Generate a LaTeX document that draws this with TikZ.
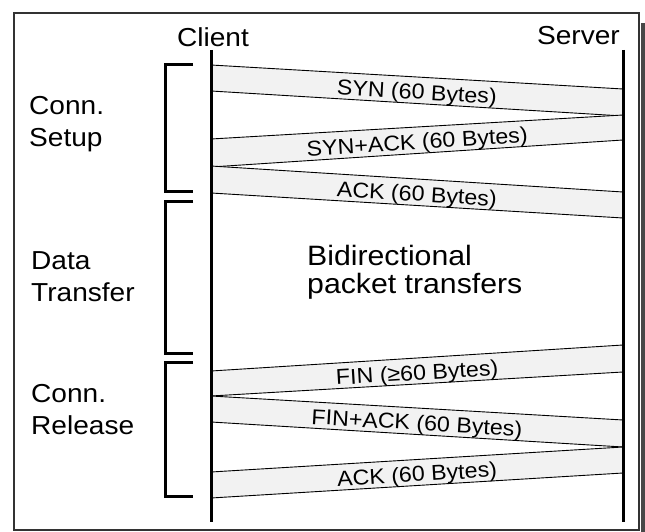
\documentclass[tikz,border=0pt]{standalone}
\usepackage{fontspec}
\setmainfont{Liberation Sans}[FakeStretch=1.08]
\newcommand{\msgband}[6]{%
  \coordinate (#1ct) at (211,#2);
  \coordinate (#1cb) at (211,#3);
  \coordinate (#1st) at (623,#4);
  \coordinate (#1sb) at (623,#5);
  \fill[bandfill] (#1ct) -- (#1st) -- (#1sb) -- (#1cb) -- cycle;
  \draw[bandline] (#1ct) -- (#1st);
  \draw[bandline] (#1cb) -- (#1sb);
  \path ($(#1ct)!0.5!(#1cb)$) -- ($(#1st)!0.5!(#1sb)$)
     node[msg, midway, yshift=-3.5pt] (#1) {#6};
}
\usetikzlibrary{calc}
\begin{document}
\begin{tikzpicture}[x=1pt,y=-1pt,
  bandfill/.style={fill=black!5},
  bandline/.style={draw=black, line width=0.9pt},
  life/.style={line width=3pt},
  brk/.style={line width=3pt},
  side/.style={font=\fontsize{26}{32}\selectfont, align=left, anchor=north west, inner sep=0pt},
  head/.style={font=\fontsize{26}{32}\selectfont, inner sep=0pt},
  msg/.style={font=\fontsize{21.5}{24}\selectfont, sloped, inner sep=0pt}]
\useasboundingbox (0,0) rectangle (645,532);
% frame and shadow
\fill[black!72] (641,23) rectangle (645,532);
\draw[black!80, line width=1.2pt] (14,13) rectangle (639,530);
% headers
\node[head, anchor=base] (client) at (213,46.7) {Client};
\node[head, anchor=base east] (server) at (620,45) {Server};
% bands
\msgband{syn}{65}{91}{89}{116}{SYN (60 Bytes)}
\msgband{synack}{139}{167}{115}{140}{SYN+ACK (60 Bytes)}
\msgband{ack}{166}{193}{192}{218}{ACK (60 Bytes)}
\msgband{fin}{371}{396}{345}{372}{FIN (≥60 Bytes)}
\msgband{finack}{396}{422}{420}{447}{FIN+ACK (60 Bytes)}
\msgband{ackb}{472}{498}{447}{473}{ACK (60 Bytes)}
% lifelines
\coordinate (ctop) at (211,50);
\coordinate (cbot) at (211,522);
\coordinate (stop) at (623,50);
\coordinate (sbot) at (623,522);
\draw[life] (ctop) -- (cbot);
\draw[life] (stop) -- (sbot);
% brackets
\draw[brk] (193,65) -- (165.5,65) -- (165.5,191) -- (193,191);
\draw[brk] (193,201) -- (165.5,201) -- (165.5,353) -- (193,353);
\draw[brk] (193,362) -- (165.5,362) -- (165.5,496) -- (193,496);
% side labels
\node[side] (setup) at (29,96) {Conn.\\Setup};
\node[side] (data) at (31,251) {Data\\Transfer};
\node[side] (release) at (31,384) {Conn.\\Release};
% middle text
\node[align=left, anchor=north west, inner sep=0pt, font=\fontsize{28}{28}\selectfont] (bidir) at (307,245) {Bidirectional\\packet transfers};
\end{tikzpicture}
\end{document}
